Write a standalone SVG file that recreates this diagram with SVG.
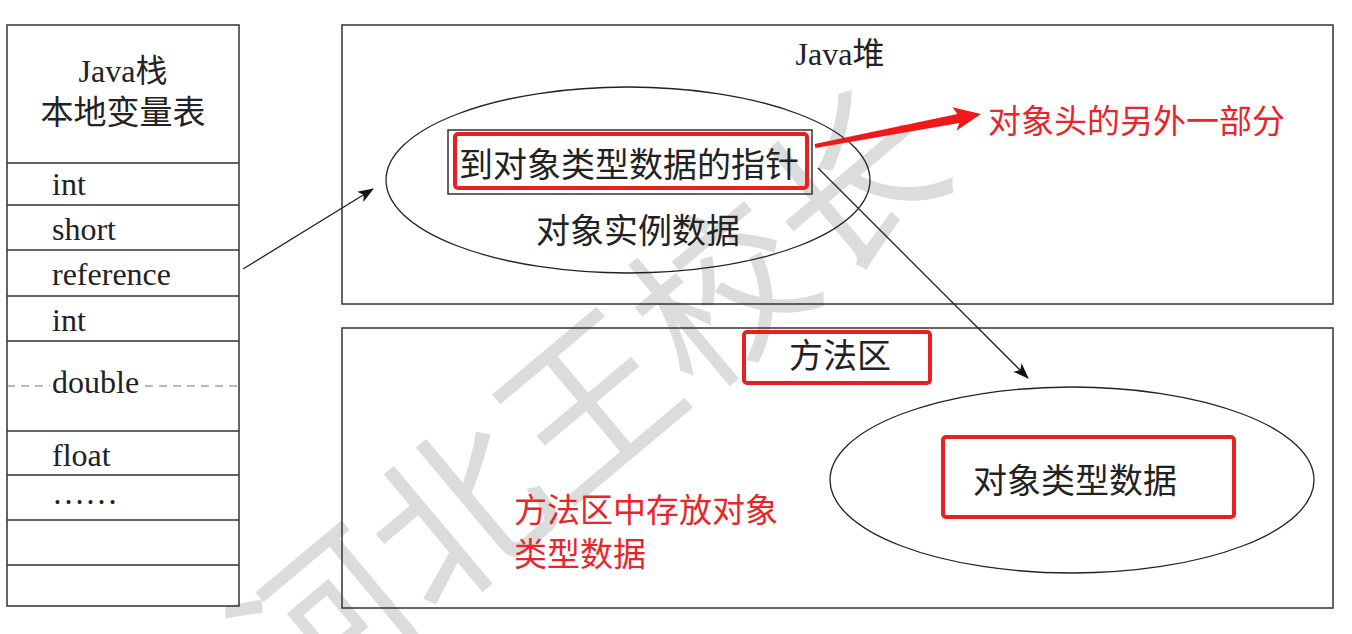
<svg xmlns="http://www.w3.org/2000/svg" width="1352" height="634" viewBox="0 0 1352 634">
<style>
.ln{fill:none;stroke:#333;stroke-width:1.5}
.thin{fill:none;stroke:#222;stroke-width:1.3}
.red{fill:none;stroke:#e8201f;stroke-width:4}
.ser{font-family:"Liberation Serif","Noto Sans CJK SC",serif;font-size:32px;fill:#222}
.cjk{font-family:"Noto Sans CJK SC",sans-serif;font-size:34px;fill:#222}
.rt{font-family:"Noto Sans CJK SC",sans-serif;font-size:33px;fill:#e8262a}
.wm{font-family:"Noto Sans CJK SC",sans-serif;font-size:172px;font-weight:400;fill:#dcdcdc}
</style>
<defs>
<marker id="ah" markerWidth="16" markerHeight="12" refX="15" refY="6" orient="auto" markerUnits="userSpaceOnUse">
<path d="M0,0 L16,6 L0,12 L4,6 Z" fill="#111"/>
</marker>
</defs>
<rect width="1352" height="634" fill="#fff"/>
<g id="watermark">
<text class="wm" transform="translate(590,405) rotate(-40)" text-anchor="middle" y="62">河北王校长</text>
</g>
<g id="java-stack">
<rect x="7" y="25" width="232" height="581" class="ln"/>
<path class="ln" d="M7,163H239M7,205H239M7,250H239M7,296H239M7,341H239M7,431H239M7,475H239M7,520H239M7,565H239"/>
<path d="M7,386H50M145,386H239" fill="none" stroke="#777" stroke-width="1.2" stroke-dasharray="8,6"/>
<text class="ser" x="123" y="82" text-anchor="middle">Java栈</text>
<text class="ser" x="123" y="124" text-anchor="middle" style="font-size:33px">本地变量表</text>
<text class="ser" x="52" y="195">int</text>
<text class="ser" x="52" y="240">short</text>
<text class="ser" x="52" y="285">reference</text>
<text class="ser" x="52" y="331">int</text>
<text class="ser" x="52" y="393">double</text>
<text class="ser" x="52" y="466">float</text>
<text class="ser" x="52" y="504" style="font-size:33px">……</text>
</g>
<g id="java-heap">
<rect x="342" y="25" width="991" height="279" class="ln"/>
<text class="ser" x="840" y="65" text-anchor="middle">Java堆</text>
<ellipse cx="628" cy="180" rx="242" ry="93" class="thin"/>
<rect x="448" y="130" width="364" height="64" class="ln"/>
<rect x="455" y="134" width="352" height="54" rx="3" class="red"/>
<text class="cjk" x="629" y="177" text-anchor="middle">到对象类型数据的指针</text>
<text class="cjk" x="638" y="243" text-anchor="middle">对象实例数据</text>
</g>
<g id="header-note">
<text class="rt" x="988" y="133">对象头的另外一部分</text>
</g>
<g id="method-area">
<rect x="342" y="328" width="991" height="280" class="ln"/>
<rect x="744" y="332" width="186" height="51" rx="3" class="red"/>
<text class="cjk" x="840" y="368" text-anchor="middle">方法区</text>
<ellipse cx="1072" cy="480" rx="242" ry="93" class="thin"/>
<rect x="943" y="437" width="291" height="80" rx="3" class="red"/>
<text class="cjk" x="1075" y="493" text-anchor="middle">对象类型数据</text>
<text class="rt" x="514" y="522">方法区中存放对象</text>
<text class="rt" x="514" y="566">类型数据</text>
</g>
<g id="connectors">
<line x1="243" y1="269" x2="373" y2="189" class="thin" marker-end="url(#ah)"/>
<line x1="818" y1="168" x2="1028" y2="378" class="thin" marker-end="url(#ah)"/>
<polygon points="815.4,148 959.4,123 956.6,130.5 981,114 952.4,107.3 957.4,114 814.6,144" fill="#f01818"/>
</g>
</svg>
